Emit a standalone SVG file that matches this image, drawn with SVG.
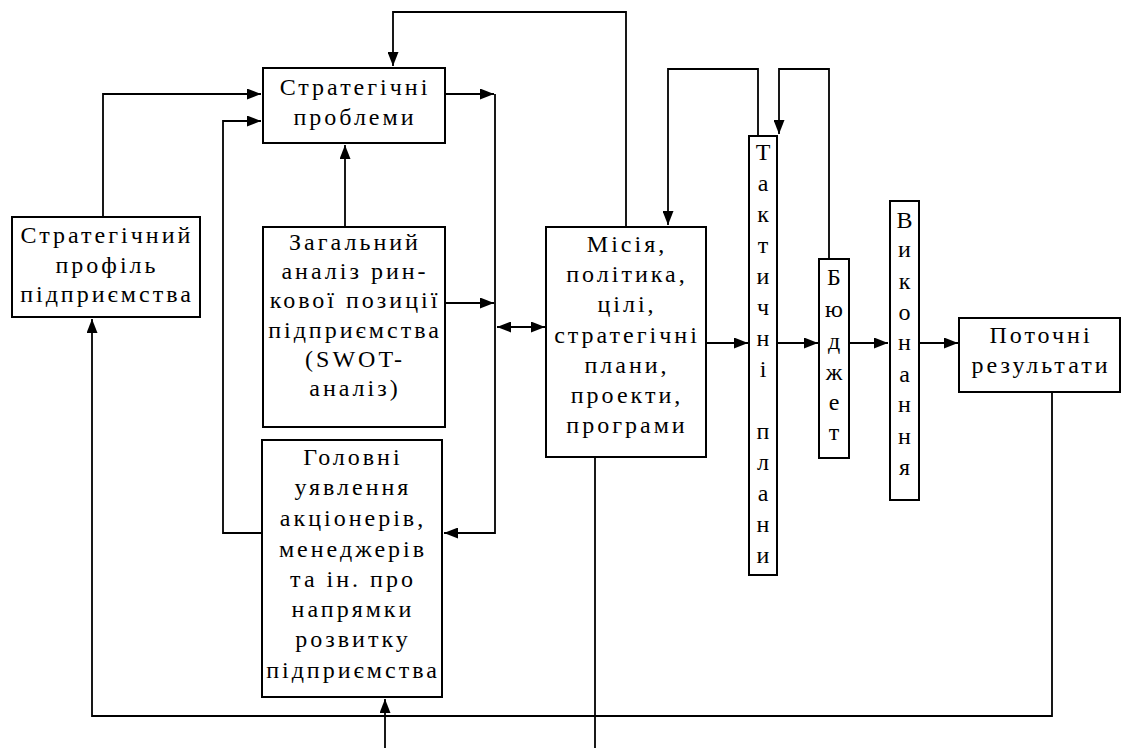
<svg xmlns="http://www.w3.org/2000/svg" width="1129" height="748" viewBox="0 0 1129 748">
<style>
.box{fill:#fff;stroke:#000;stroke-width:2}
.t{font-family:"Liberation Serif",serif;font-size:24px;letter-spacing:3px;text-anchor:middle;fill:#000}
.v{font-family:"Liberation Serif",serif;font-size:24px;text-anchor:middle;fill:#000}
.c{fill:none;stroke:#000;stroke-width:1.8}
</style>
<defs>
<marker id="ah" markerUnits="userSpaceOnUse" markerWidth="14" markerHeight="11" refX="14" refY="5.5" orient="auto-start-reverse">
<path d="M0,0 L14,5.5 L0,11 z" fill="#000"/>
</marker>
</defs>
<rect width="1129" height="748" fill="#fff"/>
<g id="connectors">
<path class="c" d="M626,227 V12 H393 V66" marker-end="url(#ah)"/>
<path class="c" d="M103,217 V94 H261" marker-end="url(#ah)"/>
<path class="c" d="M262,533 H223 V121 H261" marker-end="url(#ah)"/>
<path class="c" d="M345,227 V145" marker-end="url(#ah)"/>
<path class="c" d="M445,94 H494" marker-end="url(#ah)"/>
<path class="c" d="M495,94 V533 H444" marker-end="url(#ah)"/>
<path class="c" d="M445,303 H494" marker-end="url(#ah)"/>
<path class="c" d="M497,327 H545" marker-start="url(#ah)" marker-end="url(#ah)"/>
<path class="c" d="M706,343 H748" marker-end="url(#ah)"/>
<path class="c" d="M777,343 H818" marker-end="url(#ah)"/>
<path class="c" d="M849,343 H888" marker-end="url(#ah)"/>
<path class="c" d="M919,343 H958" marker-end="url(#ah)"/>
<path class="c" d="M758,136 V69 H668 V225" marker-end="url(#ah)"/>
<path class="c" d="M829,259 V69 H779 V134" marker-end="url(#ah)"/>
<path class="c" d="M1052,392 V716 H92 V319" marker-end="url(#ah)"/>
<path class="c" d="M595,457 V748"/>
<path class="c" d="M385,748 V699" marker-end="url(#ah)"/>
</g>
<g id="n-problems">
<rect class="box" x="263" y="68" width="182" height="75"/>
<text class="t" x="355" y="95">Стратегічні</text>
<text class="t" x="355" y="125">проблеми</text>
</g>
<g id="n-profile">
<rect class="box" x="12" y="217" width="188" height="100"/>
<text class="t" x="107" y="243">Стратегічний</text>
<text class="t" x="107" y="273">профіль</text>
<text class="t" x="107" y="302">підприємства</text>
</g>
<g id="n-swot">
<rect class="box" x="263" y="227" width="182" height="200"/>
<text class="t" x="355" y="250">Загальний</text>
<text class="t" x="355" y="279">аналіз рин-</text>
<text class="t" x="355" y="308">кової позиції</text>
<text class="t" x="355" y="338">підприємства</text>
<text class="t" x="355" y="367">(SWOT-</text>
<text class="t" x="355" y="396">аналіз)</text>
</g>
<g id="n-views">
<rect class="box" x="262" y="440" width="180" height="257"/>
<text class="t" x="353" y="465">Головні</text>
<text class="t" x="353" y="495">уявлення</text>
<text class="t" x="353" y="526">акціонерів,</text>
<text class="t" x="353" y="557">менеджерів</text>
<text class="t" x="353" y="587">та ін. про</text>
<text class="t" x="353" y="617">напрямки</text>
<text class="t" x="353" y="647">розвитку</text>
<text class="t" x="353" y="678">підприємства</text>
</g>
<g id="n-mission">
<rect class="box" x="546" y="227" width="160" height="230"/>
<text class="t" x="627" y="252">Місія,</text>
<text class="t" x="627" y="282">політика,</text>
<text class="t" x="627" y="312">цілі,</text>
<text class="t" x="627" y="343">стратегічні</text>
<text class="t" x="627" y="373">плани,</text>
<text class="t" x="627" y="403">проекти,</text>
<text class="t" x="627" y="433">програми</text>
</g>
<g id="n-tactical">
<rect class="box" x="749" y="136" width="28" height="439"/>
<text class="v" x="763" y="160">Т</text>
<text class="v" x="763" y="191">а</text>
<text class="v" x="763" y="222">к</text>
<text class="v" x="763" y="253">т</text>
<text class="v" x="763" y="284">и</text>
<text class="v" x="763" y="315">ч</text>
<text class="v" x="763" y="346">н</text>
<text class="v" x="763" y="377">і</text>
<text class="v" x="763" y="439">п</text>
<text class="v" x="763" y="470">л</text>
<text class="v" x="763" y="501">а</text>
<text class="v" x="763" y="532">н</text>
<text class="v" x="763" y="563">и</text>
</g>
<g id="n-budget">
<rect class="box" x="819" y="259" width="30" height="199"/>
<text class="v" x="834" y="285">Б</text>
<text class="v" x="834" y="317">ю</text>
<text class="v" x="834" y="349">д</text>
<text class="v" x="834" y="380">ж</text>
<text class="v" x="834" y="410">е</text>
<text class="v" x="834" y="440">т</text>
</g>
<g id="n-execution">
<rect class="box" x="890" y="201" width="29" height="299"/>
<text class="v" x="904.5" y="228">В</text>
<text class="v" x="904.5" y="257">и</text>
<text class="v" x="904.5" y="289">к</text>
<text class="v" x="904.5" y="320">о</text>
<text class="v" x="904.5" y="350">н</text>
<text class="v" x="904.5" y="382">а</text>
<text class="v" x="904.5" y="412">н</text>
<text class="v" x="904.5" y="444">н</text>
<text class="v" x="904.5" y="475">я</text>
</g>
<g id="n-results">
<rect class="box" x="959" y="318" width="161" height="74"/>
<text class="t" x="1041" y="343">Поточні</text>
<text class="t" x="1041" y="373">результати</text>
</g>
</svg>
